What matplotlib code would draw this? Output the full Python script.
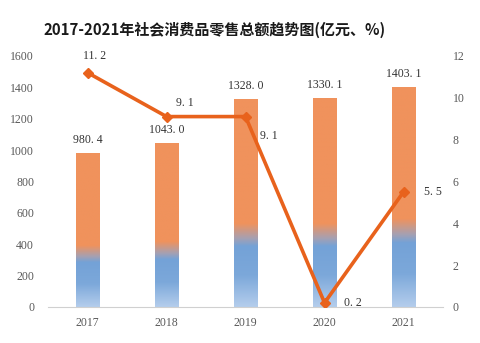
import matplotlib
matplotlib.use("Agg")
import matplotlib.pyplot as plt
import numpy as np
from matplotlib.colors import LinearSegmentedColormap

years = ["2017", "2018", "2019", "2020", "2021"]
sales = [980.4, 1043.0, 1328.0, 1330.1, 1403.1]
growth = [11.2, 9.1, 9.1, 0.2, 5.5]
title = "2017-2021年社会消费品零售总额趋势图(亿元、%)"

line_color = "#e8621c"
tick_color = "#595959"
num_font = "Liberation Serif"

fig = plt.figure(figsize=(4.8, 3.43), dpi=100)
ax = fig.add_axes([0.1, 0.105, 0.823, 0.732])
ax2 = ax.twinx()

x = np.arange(len(years))
width = 0.3
bars = ax.bar(x, sales, width=width, color="none", edgecolor="none", zorder=2)

cmap = LinearSegmentedColormap.from_list(
    "grad",
    [(0.0, "#b4cdec"), (0.15, "#7ca8da"), (0.29, "#74a2d7"),
     (0.33, "#a8a0b0"), (0.40, "#f0925c"), (1.0, "#f0925c")])
grad = np.linspace(0, 1, 256).reshape(-1, 1)
for b in bars:
    bx, bw, bh = b.get_x(), b.get_width(), b.get_height()
    im = ax.imshow(grad, cmap=cmap, origin="lower", aspect="auto",
                   extent=[bx, bx + bw, 0, bh], zorder=2, interpolation="bilinear")
    im.set_clip_path(b)

ax.set_xlim(-0.5, 4.5)
ax.set_ylim(0, 1600)
ax.set_yticks(np.arange(0, 1601, 200))
ax.set_xticks(x)
ax.set_xticklabels(years)

for xi, v in zip(x, sales):
    ax.annotate(f"{v:.1f}".replace(".", ". "), (xi, v), xytext=(0, 5),
                textcoords="offset points", ha="center", va="bottom",
                fontsize=8.5, family=num_font, color="#333333")

ax2.set_ylim(0, 12)
ax2.set_yticks(np.arange(0, 13, 2))
ax2.plot(x, growth, color=line_color, lw=2.6, marker="D", markersize=5, zorder=5)
offsets = [(5, 12), (13, 10), (17, -14), (14, 0), (15, 0)]
for xi, v, off in zip(x, growth, offsets):
    ax2.annotate(f"{v:.1f}".replace(".", ". "), (xi, v), xytext=off,
                 textcoords="offset points", ha="left" if off[1] == 0 else "center",
                 va="center", fontsize=8.5, family=num_font, color="#333333")

for a in (ax, ax2):
    for s in a.spines.values():
        s.set_visible(False)
ax.spines["bottom"].set_visible(True)
ax.spines["bottom"].set_color("#d0d0d0")
ax.tick_params(axis="both", length=0, colors=tick_color, labelsize=8.5)
ax.tick_params(axis="y", pad=10)
ax.tick_params(axis="x", pad=7)
ax2.tick_params(axis="y", length=0, colors=tick_color, labelsize=8.5, pad=7)
for lab in ax.get_xticklabels() + ax.get_yticklabels() + ax2.get_yticklabels():
    lab.set_family(num_font)

fig.text(0.448, 0.913, title, ha="center", va="center", fontsize=10.8,
         fontweight="bold", family=["Noto Sans CJK SC", "DejaVu Sans"], color="#1a1a1a")

fig.savefig("out.png", dpi=100)
